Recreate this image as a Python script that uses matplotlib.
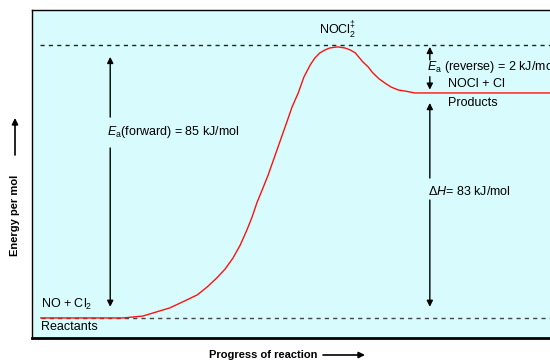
import matplotlib
matplotlib.use("Agg")
import matplotlib.pyplot as plt

plt.rcParams['font.family'] = ['Liberation Sans', 'DejaVu Sans']
plt.rcParams['mathtext.fontset'] = 'custom'
plt.rcParams['mathtext.rm'] = 'Liberation Sans'
plt.rcParams['mathtext.it'] = 'Liberation Sans:italic'

# reaction coordinate (0-100) and energy
progress = [1.7, 17.6, 21.4, 26.6, 29.5, 31.9, 33.8, 35.7, 37.3, 38.8, 40.2,
            41.5, 42.5, 43.4, 44.6, 45.6, 47.3, 49.2, 50.2, 51.4, 52.5, 53.7,
            54.6, 55.6, 56.6, 57.5, 59.0, 60.4, 61.4, 62.4, 63.9, 64.9, 65.8,
            67.0, 68.1, 69.3, 70.7, 72.0, 73.9, 100]
energy = [0, 0, 0.7, 3.7, 6.3, 8.5, 11.4, 14.8, 18.1, 22.1, 26.9,
          32.5, 37.3, 42.4, 48.0, 52.8, 62.0, 72.3, 77.8, 83.0, 88.9, 93.3,
          95.9, 97.8, 98.9, 99.6, 100.0, 99.6, 98.9, 97.8, 94.4, 92.6, 90.4,
          88.2, 86.7, 85.2, 84.1, 83.7, 83.0, 83.0]

reactant_level = 0
product_level = 83
ts_level = 100.7

ea_fwd_x = 15.1
dh_x = 76.8
ea_rev_x = 76.8

bg = '#d8fcfd'
fig = plt.figure(figsize=(5.5, 3.64), dpi=100)
ax = fig.add_axes([32 / 550, 26 / 364, 518 / 550, 328 / 364])
ax.set_facecolor(bg)
ax.set_xlim(0, 100)
ax.set_ylim(-7.4, 113.6)
ax.set_xticks([])
ax.set_yticks([])
ax.spines['right'].set_visible(False)
ax.spines['top'].set_linewidth(1)
ax.spines['left'].set_linewidth(1)
ax.spines['bottom'].set_linewidth(2)

dash = (0, (3, 3))
ax.plot([1.5, 100], [ts_level, ts_level], color='#222222', lw=1, ls=dash)
ax.plot([1.7, 100], [reactant_level, reactant_level], color='#444444', lw=1, ls=dash)
ax.plot(progress, energy, color='#ff1010', lw=1)

arrow = dict(arrowstyle='-|>', color='black', lw=1, mutation_scale=9,
             shrinkA=0, shrinkB=0)

def arr(x, y0, y1):
    ax.annotate('', xy=(x, y1), xytext=(x, y0), arrowprops=arrow)

# Ea forward
arr(ea_fwd_x, 74.1, ts_level - 4.4)
arr(ea_fwd_x, 62.7, reactant_level + 4.1)
# delta H
arr(dh_x, 51.6, product_level - 3.7)
arr(dh_x, 43.5, reactant_level + 4.1)
# Ea reverse
arr(ea_rev_x, 95.2, ts_level - 0.7)
arr(ea_rev_x, 89.0, product_level + 1.2)

fs = 9
ax.text(14.5, 68.6, r'$E_{\rm a}$(forward) = 85 kJ/mol', fontsize=fs, va='center')
ax.text(76.4, 46.5, r'$\Delta H$= 83 kJ/mol', fontsize=fs, va='center')
ax.text(76.3, 92.6, r'$E_{\rm a}$ (reverse) = 2 kJ/mol', fontsize=fs, va='center')
ax.text(80.3, 86.3, 'NOCl + Cl', fontsize=fs, va='center')
ax.text(80.3, 79.3, 'Products', fontsize=fs, va='center')
ax.text(1.7, 4.8, r'NO + Cl$_2$', fontsize=fs, va='center')
ax.text(1.7, -3.3, 'Reactants', fontsize=fs, va='center')
ax.text(55.4, 106.5, r'NOCl$_2^{\ddagger}$', fontsize=fs, va='center')

lab = dict(fontsize=8, fontweight='bold')
fig.text(263 / 550, 1 - 355 / 364, 'Progress of reaction', ha='center', va='center', **lab)
fig.text(15 / 550, 1 - 215 / 364, 'Energy per mol', ha='center', va='center',
         rotation=90, **lab)

farrow = dict(arrowstyle='-|>', color='black', lw=1.2, mutation_scale=9,
              shrinkA=0, shrinkB=0)
fig.add_artist(plt.Annotation('', xy=(365 / 550, 1 - 355 / 364), xycoords='figure fraction',
                              xytext=(323 / 550, 1 - 355 / 364), textcoords='figure fraction',
                              arrowprops=farrow))
fig.add_artist(plt.Annotation('', xy=(15 / 550, 1 - 118 / 364), xycoords='figure fraction',
                              xytext=(15 / 550, 1 - 155 / 364), textcoords='figure fraction',
                              arrowprops=farrow))

fig.savefig('out.png', dpi=100)
